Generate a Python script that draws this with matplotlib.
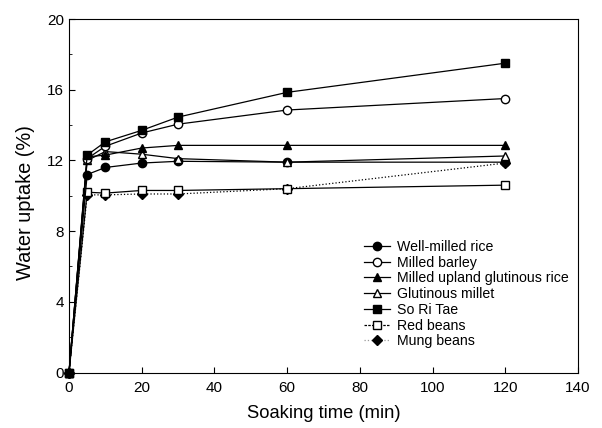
import numpy as np
import matplotlib.pyplot as plt
from matplotlib.ticker import MultipleLocator
from matplotlib.lines import Line2D

plt.rcParams['font.family'] = ['Liberation Sans', 'DejaVu Sans']

t = [0, 5, 10, 20, 30, 60, 120]

well_milled_rice = [0, 11.2, 11.6, 11.85, 11.95, 11.9, 11.9]
milled_barley = [0, 12.1, 12.8, 13.55, 14.05, 14.85, 15.5]
upland_glutinous = [0, 12.2, 12.3, 12.7, 12.85, 12.85, 12.85]
glutinous_millet = [0, 12.0, 12.5, 12.35, 12.1, 11.9, 12.25]
so_ri_tae = [0, 12.3, 13.05, 13.7, 14.45, 15.85, 17.5]
red_beans = [0, 10.2, 10.15, 10.3, 10.3, 10.4, 10.6]
mung_beans = [0, 10.05, 10.05, 10.1, 10.1, 10.4, 11.85]

labels = ["Well-milled rice", "Milled barley", "Milled upland glutinous rice",
          "Glutinous millet", "So Ri Tae", "Red beans", "Mung beans"]

fig = plt.figure(figsize=(6.02, 4.28), dpi=100)
ax = fig.add_axes([69/602, 1-372.5/428, 509/602, 353.5/428])

lw = 0.9
kw = dict(lw=lw, clip_on=False, zorder=3)
ax.plot(t, mung_beans, color='k', marker='D', ms=5, ls=':', **kw)
ax.plot(t, red_beans, 'k-s', ms=5.5, mfc='white', **kw)
ax.plot(t, well_milled_rice, 'k-o', ms=6, **kw)
ax.plot(t, glutinous_millet, 'k-^', ms=6, mfc='white', **kw)
ax.plot(t, upland_glutinous, 'k-^', ms=6, **kw)
ax.plot(t, milled_barley, 'k-o', ms=6, mfc='white', **kw)
ax.plot(t, so_ri_tae, 'k-s', ms=5.5, **kw)

handles = [
    Line2D([], [], color='k', lw=lw, marker='o', ms=6),
    Line2D([], [], color='k', lw=lw, marker='o', ms=6, mfc='white'),
    Line2D([], [], color='k', lw=lw, marker='^', ms=6),
    Line2D([], [], color='k', lw=lw, marker='^', ms=6, mfc='white'),
    Line2D([], [], color='k', lw=lw, marker='s', ms=5.5),
    Line2D([], [], color='k', lw=lw, marker='s', ms=5.5, mfc='white', ls=(0, (2, 1))),
    Line2D([], [], color='0.6', lw=lw, marker='D', ms=5, mfc='k', mec='k', ls=':'),
]

ax.set_xlim(0, 140)
ax.set_ylim(0, 20)
ax.xaxis.set_major_locator(MultipleLocator(20))
ax.yaxis.set_major_locator(MultipleLocator(4))
ax.yaxis.set_minor_locator(MultipleLocator(2))
ax.tick_params(which='both', direction='in', labelsize=11)
ax.tick_params(which='major', length=4)
ax.tick_params(which='minor', length=2.5)
ax.tick_params(axis='x', pad=6)
for s in ax.spines.values():
    s.set_linewidth(0.8)

ax.set_xlabel("Soaking time (min)", fontsize=13.2, labelpad=7)
ax.set_ylabel("Water uptake (%)", fontsize=14.4)
ax.yaxis.set_label_coords(-0.067, 0.482)

ax.legend(handles, labels, loc='upper left', bbox_to_anchor=(295/509, 1-(240-19)/353.5),
          frameon=False, fontsize=10.2, handlelength=1.8, handletextpad=0.5,
          labelspacing=0.12, borderaxespad=0, borderpad=0)

fig.savefig("out.png", dpi=100)
